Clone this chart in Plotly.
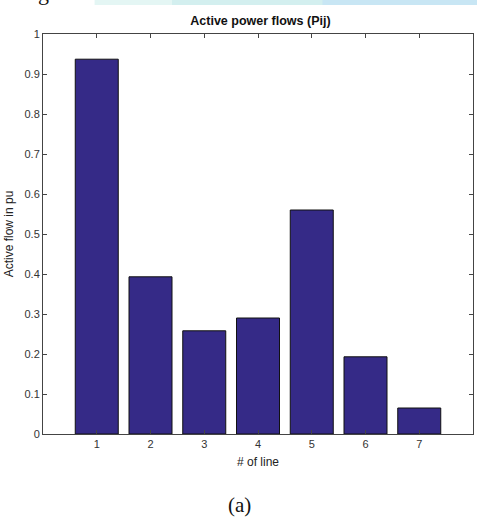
import plotly.graph_objects as go

lines = [1, 2, 3, 4, 5, 6, 7]
flows = [0.937, 0.393, 0.258, 0.290, 0.560, 0.193, 0.065]
y_ticks = [0, 0.1, 0.2, 0.3, 0.4, 0.5, 0.6, 0.7, 0.8, 0.9, 1]
y_tick_text = ["0", "0.1", "0.2", "0.3", "0.4", "0.5", "0.6", "0.7", "0.8", "0.9", "1"]

W, H = 477, 517
SANS = "Arial, Liberation Sans, sans-serif"
fig = go.Figure()
fig.add_trace(go.Bar(
    x=lines, y=flows, width=0.8,
    marker=dict(color="#352a87", line=dict(color="#111111", width=1)),
))

axis_common = dict(
    showline=True, linecolor="#444444", linewidth=1, mirror="ticks",
    ticks="inside", ticklen=4, tickcolor="#444444", showgrid=False, zeroline=False,
    tickfont=dict(family=SANS, size=11, color="#333333"),
)

fig.update_layout(
    width=W, height=H,
    margin=dict(l=43, r=4, t=34, b=83),
    paper_bgcolor="white", plot_bgcolor="white",
    showlegend=False,
    title=dict(text="<b>Active power flows (Pij)</b>", x=0.546, xanchor="center",
               y=1 - 21 / H, yanchor="middle",
               font=dict(family=SANS, size=12.5, color="#111111")),
    xaxis=dict(range=[0, 8], tickvals=lines, ticktext=[str(v) for v in lines],
               title=dict(text="# of line", standoff=8,
                          font=dict(family=SANS, size=12, color="#222222")),
               **axis_common),
    yaxis=dict(range=[0, 1], tickvals=y_ticks, ticktext=y_tick_text,
               title=dict(text="Active flow in pu", standoff=8,
                          font=dict(family=SANS, size=12, color="#222222")),
               **axis_common),
)

# light blue band at very top (page background of source)
fig.add_shape(type="rect", xref="paper", yref="paper", x0=0.12, x1=1.02,
              y0=1 + 29 / 400, y1=1 + 40 / 400, fillcolor="#e4f6f4", line_width=0, layer="below")
fig.add_shape(type="rect", xref="paper", yref="paper", x0=0.3, x1=1.02,
              y0=1 + 29 / 400, y1=1 + 40 / 400, fillcolor="#d3efef", line_width=0, layer="below")
fig.add_shape(type="rect", xref="paper", yref="paper", x0=0.65, x1=1.02,
              y0=1 + 29 / 400, y1=1 + 40 / 400, fillcolor="#c8e6f4", line_width=0, layer="below")

# cut-off text from the page above
fig.add_annotation(text="in fig 6.", xref="paper", yref="paper", x=-0.1, y=1 + 42 / 400,
                   xanchor="left", yanchor="middle", showarrow=False,
                   font=dict(family="Liberation Serif, Times New Roman, serif", size=22, color="#111111"))

# caption
fig.add_annotation(text="(a)", xref="paper", yref="paper", x=0.457, y=-71 / 400,
                   xanchor="center", yanchor="middle", showarrow=False,
                   font=dict(family="Liberation Serif, Times New Roman, serif", size=21, color="#111111"))

fig.write_html("out.html", config={"displayModeBar": False},
               post_script="document.body.style.margin='0';")
